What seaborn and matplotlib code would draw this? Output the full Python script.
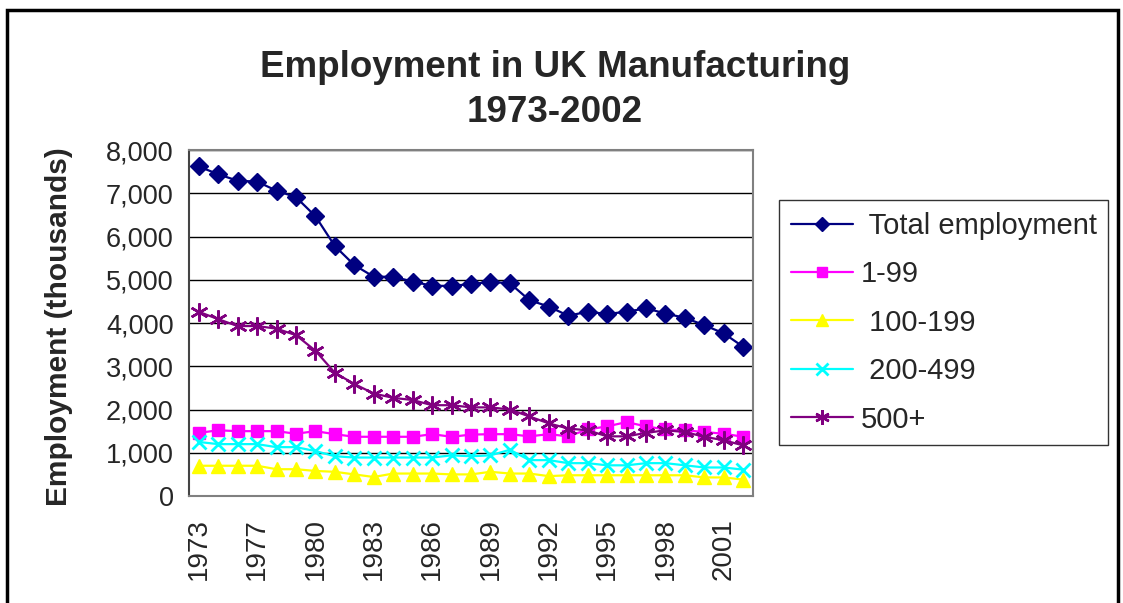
import numpy as np
import pandas as pd
import seaborn as sns
import matplotlib.pyplot as plt
from matplotlib.patches import Rectangle
from matplotlib.ticker import FuncFormatter, FixedLocator

# one year is missing from the source series (29 categories)
years = [1973, 1974, 1976, 1977, 1978, 1979, 1980, 1981, 1982, 1983, 1984, 1985,
         1986, 1987, 1988, 1989, 1990, 1991, 1992, 1993, 1994, 1995, 1996, 1997,
         1998, 1999, 2000, 2001, 2002]

total = [7620, 7440, 7290, 7270, 7060, 6910, 6470, 5780, 5340, 5070, 5070, 4960,
         4860, 4860, 4900, 4950, 4920, 4530, 4380, 4170, 4260, 4210, 4260, 4340,
         4220, 4120, 3950, 3760, 3450]
size_1_99 = [1460, 1520, 1500, 1500, 1500, 1440, 1500, 1430, 1370, 1370, 1370, 1370,
             1430, 1370, 1420, 1430, 1430, 1380, 1430, 1380, 1540, 1610, 1710, 1610,
             1540, 1520, 1480, 1440, 1370]
size_100_199 = [700, 700, 700, 700, 620, 620, 580, 560, 500, 440, 520, 520,
                520, 500, 500, 560, 520, 520, 460, 480, 480, 480, 480, 480,
                480, 480, 430, 430, 380]
size_200_499 = [1250, 1200, 1200, 1200, 1130, 1130, 1040, 920, 890, 890, 890, 890,
                890, 940, 920, 940, 1070, 830, 830, 760, 760, 710, 710, 760,
                760, 710, 660, 660, 610]
size_500_plus = [4260, 4090, 3930, 3930, 3870, 3720, 3360, 2850, 2590, 2370, 2270, 2220,
                 2100, 2100, 2050, 2050, 2000, 1840, 1680, 1560, 1520, 1380, 1380, 1460,
                 1520, 1480, 1370, 1290, 1170]

series_labels = [" Total employment", "1-99", " 100-199", " 200-499", "500+"]

sns.set_style("white")
plt.rcParams['font.family'] = ['Liberation Sans', 'DejaVu Sans']

fig = plt.figure(figsize=(11.23, 6.03), dpi=100)
ax = fig.add_axes([0.1683, 0.1774, 0.5022, 0.5738])

pos = np.arange(len(years))
styles = [
    (total, "#000080", "D", 9, 1.0),
    (size_1_99, "#FF00FF", "s", 9, 1.0),
    (size_100_199, "#FFFF00", "^", 10, 1.0),
    (size_200_499, "#00FFFF", "x", 10, 2.0),
    (size_500_plus, "#800080", (6, 2, 0), 13, 1.8),
]
for (vals, color, marker, ms, mew), label in zip(styles, series_labels):
    sns.lineplot(x=pos, y=vals, ax=ax, color=color, marker=marker, markersize=ms,
                 markeredgewidth=mew, markeredgecolor=color, linewidth=1.6, label=label)

ax.set_xlim(-0.5, len(years) - 0.5)
ax.set_ylim(0, 8000)
ax.set_yticks(range(0, 8001, 1000))
ax.yaxis.set_major_formatter(FuncFormatter(lambda v, p: f"{int(v):,}"))
ax.grid(axis="y", color="black", linewidth=1)
ax.set_axisbelow(True)

ax.xaxis.set_major_locator(FixedLocator(pos[::3]))
ax.set_xticklabels([str(y) for y in years[::3]], rotation=90)
ax.xaxis.set_minor_locator(FixedLocator(np.arange(-0.5, len(years), 1.0)))
ax.tick_params(axis="x", which="major", length=0, labelsize=20, pad=16)
ax.tick_params(axis="x", which="minor", length=6, width=1, color="#555555", direction="out")
ax.tick_params(axis="y", length=8, width=1, color="#555555", direction="out", labelsize=19.5, pad=3)

for side in ["top", "right", "bottom"]:
    ax.spines[side].set_color("#808080")
    ax.spines[side].set_linewidth(1.5)
ax.spines["left"].set_color("#444444")
ax.spines["left"].set_linewidth(1.5)

ax.set_ylabel("Employment (thousands)", fontsize=21.5, fontweight="bold")
ax.yaxis.set_label_coords(-0.206, 0.49)
ax.set_xlabel("")

ax.get_legend().remove()
handles, labels = ax.get_legend_handles_labels()
fig.legend(handles, labels, loc="upper left", bbox_to_anchor=(0.6937, 0.668),
           borderaxespad=0, frameon=True, fancybox=False, edgecolor="black",
           fontsize=21, handlelength=2.15, labelspacing=0.7, markerscale=0.8,
           borderpad=0.4, handletextpad=0.25).get_frame().set_linewidth(1)

fig.text(0.494, 0.888, "Employment in UK Manufacturing", ha="center", va="center",
         fontsize=26.5, fontweight="bold")
fig.text(0.494, 0.814, "1973-2002", ha="center", va="center",
         fontsize=26.5, fontweight="bold")

fig.patches.append(Rectangle((7 / 1123, -0.1), 1111 / 1123, 1.1 - 10 / 603,
                             transform=fig.transFigure, fill=False,
                             edgecolor="black", linewidth=2.5))

fig.savefig("out.png", dpi=100)
